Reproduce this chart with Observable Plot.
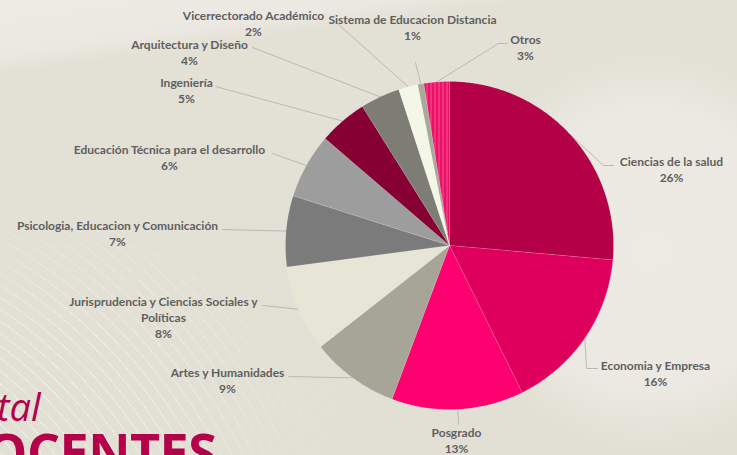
<!DOCTYPE html>
<html><head><meta charset="utf-8">
<script src="https://cdn.jsdelivr.net/npm/d3@7"></script>
<script src="https://cdn.jsdelivr.net/npm/@observablehq/plot@0.6"></script>
<style>
html,body{margin:0;padding:0;}
body{width:737px;height:455px;overflow:hidden;position:relative;
  background:
    radial-gradient(ellipse 190px 200px at 650px 250px, rgba(236,234,227,1) 0%, rgba(236,234,227,0.9) 70%, rgba(236,234,227,0) 100%),
    linear-gradient(172deg, #ecebe4 0px, #eae8e1 55px, #e3e0d5 75px, #e2dfd4 100%);
}
#arcs{position:absolute;left:0;top:180px;width:420px;height:275px;
  background: repeating-radial-gradient(circle at -260px 520px, rgba(255,255,255,0) 0px, rgba(255,255,255,0) 9px, rgba(255,255,255,0.4) 9px, rgba(255,255,255,0.4) 10px);
  -webkit-mask-image: radial-gradient(ellipse 300px 260px at 60px 240px, #000 30%, transparent 100%);
  mask-image: radial-gradient(ellipse 300px 260px at 60px 240px, #000 30%, transparent 100%);
}
#t1{position:absolute;left:-3px;top:387px;font-family:"Open Sans",sans-serif;font-style:italic;font-weight:400;font-size:38px;color:#b5004a;line-height:1;}
#t2{position:absolute;left:-14px;top:425px;font-family:"Open Sans",sans-serif;font-weight:700;font-size:52px;color:#b5004a;line-height:1;letter-spacing:-0.5px;}
#chart{position:absolute;left:0;top:0;}
</style></head><body>
<div id="arcs"></div>
<div id="t1">tal</div>
<div id="t2">OCENTES</div>
<div id="chart"></div>
<script>
// ---- data ----
const categories = ["Ciencias de la salud","Economia y Empresa","Posgrado","Artes y Humanidades",
  "Jurisprudencia y Ciencias Sociales y Políticas","Psicologia, Educacion y Comunicación",
  "Educación Técnica para el desarrollo","Ingeniería","Arquitectura y Diseño",
  "Vicerrectorado Académico","Sistema de Educacion Distancia","Otros"];
const shares = [26.4, 16.3, 13.0, 8.7, 8.5, 7.0, 6.4, 4.8, 3.9, 1.9, 0.6, 2.5];
const pctLabels = ["26%","16%","13%","9%","8%","7%","6%","5%","4%","2%","1%","3%"];
const colors = ["#b40046","#de005c","#ff0070","#a7a597","#e7e5d6","#7b7b7b",
  "#9d9d9d","#870034","#7d7d75","#f4f6e8","#a9a999","url(#otrosStripes)"];

// ---- layout (pixel space) ----
const center = [449, 245], radius = 164;
// label: x centre, y centre of first text line
const labelPos = [[671,162],[655,366],[456,433],[227,373],[163,302],[117,226],
  [169,150],[186,83],[189,45],[253,16],[412,20],[525,40]];
const labelText = {"Jurisprudencia y Ciencias Sociales y Políticas":"Jurisprudencia y Ciencias Sociales y\nPolíticas"};
// leader line: [elbow, end] near label
const leaderEnds = [[[603,165],[613,165]],[[586,368],[597,368]],[[458,424],[458,424]],
  [[288,376],[288,376]],[[262,305],[262,305]],[[222,229],[222,229]],[[272,153],[272,153]],
  [[215,86],[215,86]],[[252,47],[252,47]],[[337,23],[337,23]],[[415,62],[415,62]],
  [[498,43],[507,43]]];

const data = categories.map((name,i)=>({name, share:shares[i], pct:pctLabels[i]}));
const arcs = d3.pie().sort(null).value(d=>d.share).startAngle(0).endAngle(2*Math.PI)(data);
const pt = (a,r)=>({x:center[0]+r*Math.sin(a), y:center[1]-r*Math.cos(a)});

const slicePts = [];
arcs.forEach(a=>{
  const name=a.data.name;
  slicePts.push({name, x:center[0], y:center[1]});
  const n = Math.max(2, Math.ceil((a.endAngle-a.startAngle)/(Math.PI/360)));
  for(let k=0;k<=n;k++){
    const t=a.startAngle+(a.endAngle-a.startAngle)*k/n;
    slicePts.push({name, ...pt(t,radius)});
  }
  slicePts.push({name, x:center[0], y:center[1]});
});

const leaderPts = [];
arcs.forEach((a,i)=>{
  const mid=(a.startAngle+a.endAngle)/2;
  const s=pt(mid,radius);
  leaderPts.push({name:a.data.name, x:s.x, y:s.y});
  leaderEnds[i].forEach(p=>leaderPts.push({name:a.data.name, x:p[0], y:p[1]}));
});

const labels = data.map((d,i)=>({x:labelPos[i][0], y:labelPos[i][1]-8,
  text:(labelText[d.name]||d.name)+"\n"+d.pct}));

const chart = Plot.plot({
  width:737, height:455, margin:0,
  x:{domain:[0,737], range:[0,737], axis:null},
  y:{domain:[0,455], range:[0,455], axis:null},
  color:{domain:categories, range:colors},
  style:{background:"transparent", overflow:"visible"},
  marks:[
    Plot.line(leaderPts,{x:"x",y:"y",z:"name",stroke:"#b9b9b9",strokeWidth:1}),
    Plot.line(slicePts,{x:"x",y:"y",z:"name",fill:"name",stroke:"#ffffff",strokeOpacity:0.25,strokeWidth:0.5}),
    Plot.text(labels,{x:"x",y:"y",text:"text",textAnchor:"middle",lineAnchor:"top",lineHeight:1.33,
      fontSize:12,fontWeight:700,fill:"#5f5f5f",fontFamily:"Lato, sans-serif"})
  ]
});
// striped fill for "Otros"
const ns="http://www.w3.org/2000/svg";
const defs=document.createElementNS(ns,"defs");
const pat=document.createElementNS(ns,"pattern");
pat.setAttribute("id","otrosStripes");pat.setAttribute("patternUnits","userSpaceOnUse");
pat.setAttribute("width","4");pat.setAttribute("height","10");
const r1=document.createElementNS(ns,"rect");
r1.setAttribute("width","4");r1.setAttribute("height","10");r1.setAttribute("fill","#ec1166");
const r2=document.createElementNS(ns,"rect");
r2.setAttribute("x","2");r2.setAttribute("width","1");r2.setAttribute("height","10");r2.setAttribute("fill","#f4559a");
pat.appendChild(r1);pat.appendChild(r2);defs.appendChild(pat);
chart.insertBefore(defs, chart.firstChild);
document.getElementById("chart").appendChild(chart);
</script>
</body></html>
